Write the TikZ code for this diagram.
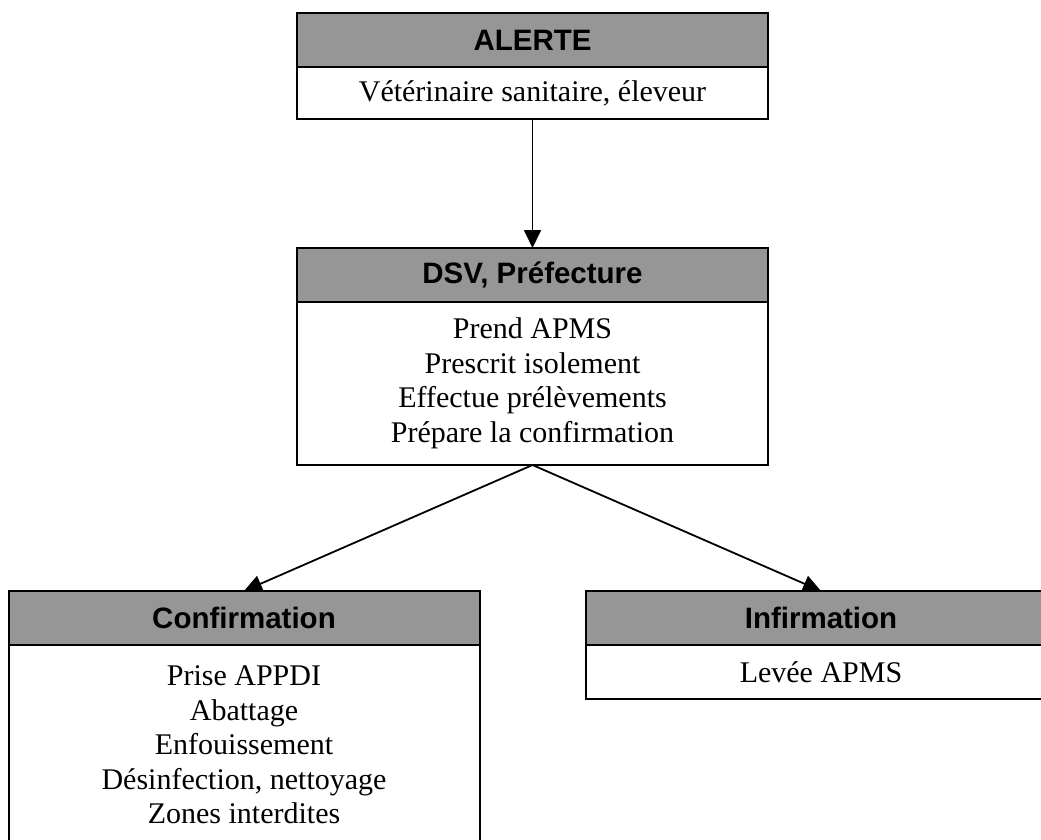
\documentclass[tikz,border=0pt]{standalone}
\usepackage{fontspec}
\setmainfont{Liberation Serif}
\setsansfont{Liberation Sans}
\usetikzlibrary{positioning,arrows.meta}

\begin{document}
\begin{tikzpicture}[x=1pt,y=-1pt,
  headbox/.style={draw,fill=headgray,line width=2pt,minimum width=471,minimum height=54,
    inner sep=0,outer sep=0,font=\sffamily\bfseries\fontsize{29.5}{32}\selectfont},
  bodybox/.style={draw,fill=white,line width=2pt,minimum width=471,inner sep=0,outer sep=0,
    align=center,font=\fontsize{30}{34.5}\selectfont},
  fleche/.style={line width=1.8pt,-{Triangle[length=18pt,width=17pt]}}]
\definecolor{headgray}{HTML}{969696}
\clip (0,0) rectangle (1041,840);
% alerte
\node [headbox] (alerteHead) at (532.5,40.5) {ALERTE};
\node [bodybox,minimum height=52,below=0pt of alerteHead] (alerteBody) {V\'et\'erinaire sanitaire, \'eleveur};
% DSV
\node [headbox] (dsvHead) at (532.5,275) {DSV, Pr\'efecture};
\node [bodybox,minimum height=163,below=0pt of dsvHead] (dsvBody)
  {Prend APMS\\Prescrit isolement\\Effectue pr\'el\`evements\\Pr\'epare la confirmation};
% confirmation / infirmation
\node [headbox] (confHead) at (244,618) {Confirmation};
\node [bodybox,minimum height=200,below=0pt of confHead] (confBody)
  {Prise APPDI\\Abattage\\Enfouissement\\D\'esinfection, nettoyage\\Zones interdites};
\node [headbox] (infHead) at (821,618) {Infirmation};
\node [bodybox,minimum height=54,below=0pt of infHead] (infBody) {Lev\'ee APMS};
% fleches
\draw [fleche] (alerteBody.south) -- (dsvHead.north);
\draw [fleche] (dsvBody.south) -- (confHead.north);
\draw [fleche] (dsvBody.south) -- (infHead.north);
\end{tikzpicture}
\end{document}
